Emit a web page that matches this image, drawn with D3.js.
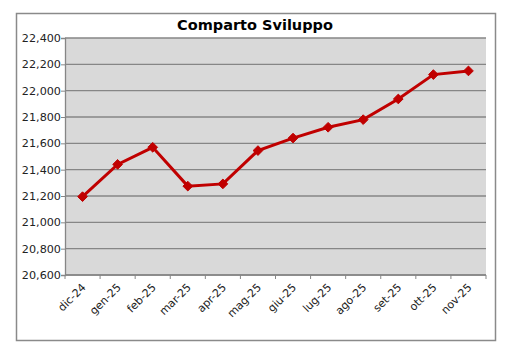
<!DOCTYPE html>
<html>
<head>
<meta charset="utf-8">
<script src="https://cdn.jsdelivr.net/npm/d3@7"></script>
<style>
  body { margin: 0; background: #fff; }
  svg { display: block; font-family: "DejaVu Sans", Verdana, sans-serif; }
</style>
</head>
<body>
<svg id="chart" width="516" height="353"></svg>
<script>
// Data
const months = ["dic-24", "gen-25", "feb-25", "mar-25", "apr-25", "mag-25",
  "giu-25", "lug-25", "ago-25", "set-25", "ott-25", "nov-25"];
const values = [21195, 21440, 21570, 21275, 21292, 21545,
  21640, 21722, 21780, 21937, 22122, 22150];
const yTicks = [20600, 20800, 21000, 21200, 21400, 21600, 21800, 22000, 22200, 22400];

const svg = d3.select("#chart");
const plotL = 65, plotR = 486, plotT = 38, plotB = 275;

// outer frame
svg.append("rect")
  .attr("x", 16.5).attr("y", 13.5)
  .attr("width", 479).attr("height", 327)
  .attr("fill", "#fff")
  .attr("stroke", "#8a8a8a")
  .attr("stroke-width", 1.5);

svg.append("text")
  .attr("x", 255).attr("y", 30)
  .attr("text-anchor", "middle")
  .attr("font-size", 14.5)
  .attr("font-weight", "bold")
  .attr("fill", "#000")
  .text("Comparto Sviluppo");

const x = d3.scaleBand().domain(months).range([plotL, plotR]);
const y = d3.scaleLinear().domain([20600, 22400]).range([plotB, plotT]);

// plot area
svg.append("rect")
  .attr("x", plotL).attr("y", plotT)
  .attr("width", plotR - plotL).attr("height", plotB - plotT)
  .attr("fill", "#d9d9d9");

// gridlines
svg.append("g")
  .selectAll("line")
  .data(yTicks)
  .join("line")
  .attr("x1", plotL).attr("x2", plotR)
  .attr("y1", d => y(d)).attr("y2", d => y(d))
  .attr("stroke", "#868686")
  .attr("stroke-width", 1.3);

// y axis
const yAxis = svg.append("g")
  .attr("transform", `translate(${plotL},0)`)
  .call(d3.axisLeft(y).tickValues(yTicks).tickSize(4).tickFormat(d3.format(",")));
yAxis.select(".domain").attr("stroke", "#868686").attr("stroke-width", 1.3);
yAxis.selectAll(".tick line").attr("stroke", "#868686");
yAxis.selectAll("text")
  .attr("font-size", 11.2)
  .attr("fill", "#222")
  .attr("x", -4)
  .style("font-family", "DejaVu Sans, Verdana, sans-serif");

// x axis with ticks at category boundaries
const xg = svg.append("g").attr("transform", `translate(0,${plotB})`);
xg.append("line")
  .attr("x1", plotL).attr("x2", plotR)
  .attr("stroke", "#868686").attr("stroke-width", 1.3);
const bounds = months.map(m => x(m)).concat([plotR]);
xg.selectAll("line.tk")
  .data(bounds)
  .join("line")
  .attr("class", "tk")
  .attr("x1", d => d).attr("x2", d => d)
  .attr("y1", 0).attr("y2", 4)
  .attr("stroke", "#868686");
xg.selectAll("text")
  .data(months)
  .join("text")
  .attr("transform", d => `translate(${x(d) + x.bandwidth() / 2 + 4},${13}) rotate(-45)`)
  .attr("text-anchor", "end")
  .attr("font-size", 11)
  .attr("fill", "#222")
  .text(d => d);

// line
const line = d3.line()
  .x((d, i) => x(months[i]) + x.bandwidth() / 2)
  .y(d => y(d));
svg.append("path")
  .datum(values)
  .attr("d", line)
  .attr("fill", "none")
  .attr("stroke", "#c00000")
  .attr("stroke-width", 3);

// diamond markers
svg.append("g")
  .selectAll("path")
  .data(values)
  .join("path")
  .attr("transform", (d, i) => `translate(${x(months[i]) + x.bandwidth() / 2},${y(d)})`)
  .attr("d", d3.symbol(d3.symbolDiamond2, 60))
  .attr("fill", "#c00000")
  .attr("stroke", "#c00000")
  .attr("stroke-width", 1);
</script>
</body>
</html>
